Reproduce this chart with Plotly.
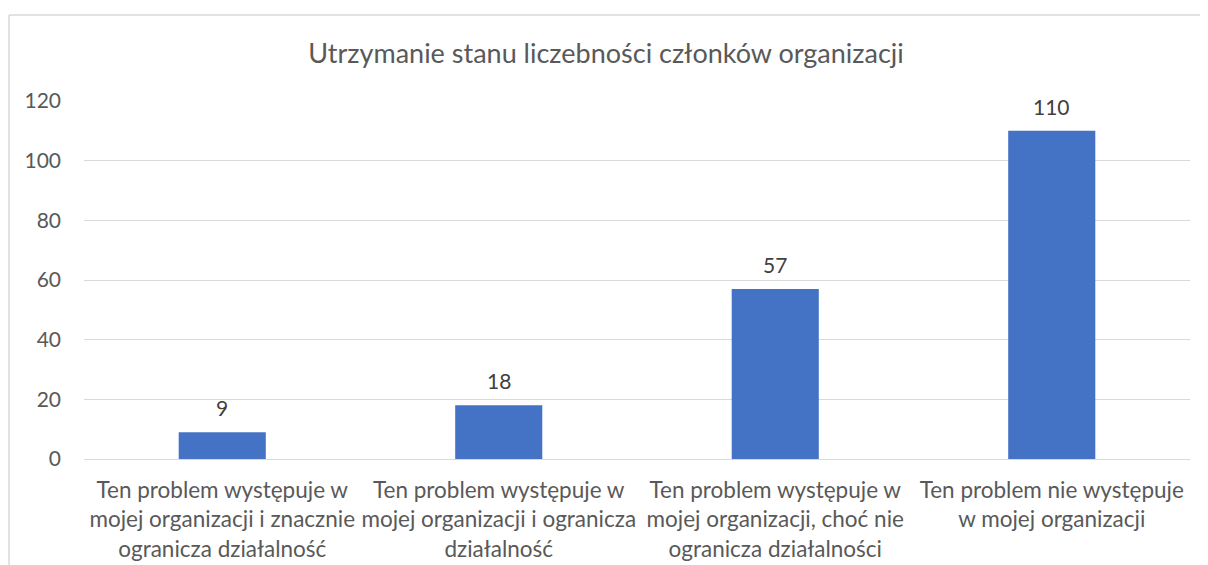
import plotly.graph_objects as go

categories = [
    "Ten problem występuje w<br>mojej organizacji i znacznie<br>ogranicza działalność",
    "Ten problem występuje w<br>mojej organizacji i ogranicza<br>działalność",
    "Ten problem występuje w<br>mojej organizacji, choć nie<br>ogranicza działalności",
    "Ten problem nie występuje<br>w mojej organizacji",
]
values = [9, 18, 57, 110]
y_ticks = [0, 20, 40, 60, 80, 100, 120]
title_text = "Utrzymanie stanu liczebności członków organizacji"

FONT = "Lato"
GREY = "#595959"

# page has an 8px body margin, so the figure is laid out 8px smaller
W, H = 1200, 557
ML, MR, MT, MB = 76, 18, 93, 106
PW, PH = W - ML - MR, H - MT - MB

fig = go.Figure()
fig.add_trace(go.Bar(
    x=categories, y=values,
    marker=dict(color="#4472C4", line=dict(width=0)),
    width=0.315,
    hoverinfo="skip",
))

for c, v in zip(categories, values):
    fig.add_annotation(
        x=c, y=v, text=str(v), showarrow=False,
        yanchor="bottom", yshift=10,
        font=dict(family=FONT, size=21, color="#404040"),
    )

def px_x(p):
    return (p - ML) / PW

def px_y(p):
    return (H - MB - p) / PH

# chart border (left and top edges)
fig.add_shape(type="line", xref="paper", yref="paper",
              x0=px_x(1), y0=px_y(560), x1=px_x(1), y1=px_y(7),
              line=dict(color="#D9D9D9", width=1.5))
fig.add_shape(type="line", xref="paper", yref="paper",
              x0=px_x(1), y0=px_y(7), x1=px_x(1202), y1=px_y(7),
              line=dict(color="#D9D9D9", width=1.5))

fig.update_layout(
    width=W, height=H,
    margin=dict(l=ML, r=MR, t=MT, b=MB, autoexpand=False),
    paper_bgcolor="white", plot_bgcolor="white",
    showlegend=False,
    title=dict(text=title_text, x=598 / W, xref="container", xanchor="center",
               y=1 - 46 / H, yref="container", yanchor="middle",
               font=dict(family=FONT, size=27, color=GREY)),
    font=dict(family=FONT, color=GREY),
    bargap=0.685,
    xaxis=dict(
        showgrid=False, zeroline=False, automargin=False,
        showline=True, linecolor="#D9D9D9", linewidth=1,
        tickfont=dict(family=FONT, size=22.5, color=GREY),
        ticks="", ticklabelstandoff=11,
    ),
    yaxis=dict(
        range=[0, 120], tickvals=y_ticks, automargin=False,
        showgrid=True, gridcolor="#D9D9D9", gridwidth=1,
        zeroline=False, showline=False,
        tickfont=dict(family=FONT, size=21, color=GREY),
        ticks="", ticklabelstandoff=22,
    ),
)

fig.write_html("out.html")
